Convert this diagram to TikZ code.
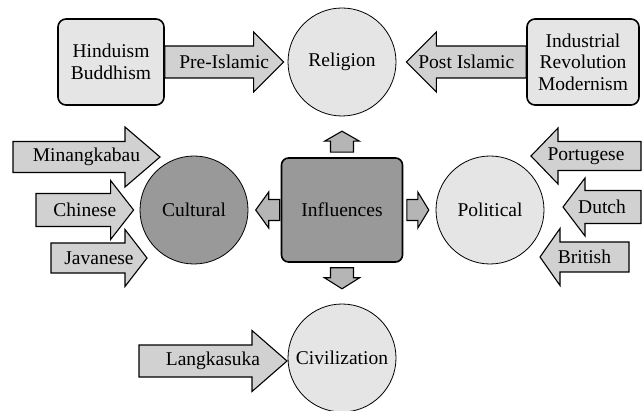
\documentclass[tikz,border=0pt]{standalone}
\usepackage{xcolor}
\usepackage{tikz}
\usetikzlibrary{calc}
\usepackage{fontspec}
\setmainfont{Liberation Serif}
\newfontfamily\diagfamily{Liberation Serif}

\definecolor{paleshade}{gray}{0.90}
\definecolor{arrowshade}{gray}{0.82}
\definecolor{smallshade}{gray}{0.71}
\definecolor{darkshade}{gray}{0.60}

\newcommand{\diagfont}{\diagfamily\fontsize{19.5}{21.5}\selectfont}

\tikzset{
  roundnode/.style={circle, minimum size=108pt, inner sep=0pt, draw=black, line width=0.8pt},
  sidebox/.style={rectangle, rounded corners=8pt, minimum width=106pt, minimum height=86pt, align=center, draw=black, line width=1.6pt, fill=paleshade},
  blockarrow/.style={draw=black, line width=1.1pt, fill=arrowshade}
}

% [style]{tail}{tip}{head length}{half shaft}{half head}{label}
\newcommand{\blockarrow}[7][]{%
  \path (#2) coordinate (ba-tail) (#3) coordinate (ba-tip);
  \path ($(ba-tip)!#4!(ba-tail)$) coordinate (ba-base);
  \draw[blockarrow,#1] ($(ba-tail)!#5!90:(ba-tip)$)
    -- ($(ba-base)!#5!90:(ba-tip)$)
    -- ($(ba-base)!#6!90:(ba-tip)$)
    -- (ba-tip)
    -- ($(ba-base)!#6!-90:(ba-tip)$)
    -- ($(ba-base)!#5!-90:(ba-tip)$)
    -- ($(ba-tail)!#5!-90:(ba-tip)$) -- cycle;
  \node at ($(ba-tail)!0.5!(ba-tip)$) {#7};
}

\begin{document}
\begin{tikzpicture}[x=1pt, y=-1pt, node distance=148pt, font=\diagfont]
\useasboundingbox (0,0) rectangle (642,411);

\node (influences) [rectangle, rounded corners=7pt, minimum width=121pt, minimum height=104pt, draw=black, line width=1.6pt, fill=darkshade] at (342,210) {Influences};

\node (religion) [roundnode, fill=paleshade, above of=influences] {Religion};
\node (cultural) [roundnode, fill=darkshade, left of=influences] {Cultural};
\node (political) [roundnode, fill=paleshade, right of=influences] {Political};
\node (civilization) [roundnode, fill=paleshade, below of=influences] {Civilization};

\node (hindu) [sidebox, left of=religion, xshift=-83pt] {Hinduism\\Buddhism};
\node (industrial) [sidebox, minimum width=112pt, right of=religion, xshift=93pt] {Industrial\\Revolution\\Modernism};

% free ends
\coordinate (minang-tail) at (13,157);
\coordinate (minang-tip) at (160,157);
\coordinate (chinese-tail) at (36,210);
\coordinate (javanese-tail) at (51,258);
\coordinate (javanese-tip) at (147,258);
\coordinate (portugese-tail) at (641,156);
\coordinate (portugese-tip) at (531,156);
\coordinate (dutch-tail) at (641,207);
\coordinate (dutch-tip) at (563,207);
\coordinate (british-tail) at (629,257);
\coordinate (british-tip) at (540,257);
\coordinate (langkasuka-tail) at (139,361);
\coordinate (langkasuka-tip) at (287,361);

\blockarrow{hindu.east}{$(religion.west)+(-4,0)$}{30pt}{16pt}{30pt}{Pre-Islamic}
\blockarrow{industrial.west}{$(religion.east)+(10,0)$}{30pt}{16pt}{30pt}{Post Islamic}

\blockarrow{minang-tail}{minang-tip}{35pt}{15.5pt}{30pt}{Minangkabau}
\blockarrow{chinese-tail}{$(cultural.west)+(-6,0)$}{23pt}{16.5pt}{29.5pt}{Chinese}
\blockarrow{javanese-tail}{javanese-tip}{22pt}{15pt}{28.5pt}{Javanese}

\blockarrow{portugese-tail}{portugese-tip}{27pt}{14.5pt}{28pt}{Portugese}
\blockarrow{dutch-tail}{dutch-tip}{22pt}{16.5pt}{29pt}{Dutch}
\blockarrow{british-tail}{british-tip}{20pt}{15pt}{28.5pt}{British}

\blockarrow{langkasuka-tail}{langkasuka-tip}{35pt}{16pt}{30.5pt}{Langkasuka}

\blockarrow[fill=smallshade]{$(influences.north)+(0,-5)$}{$(influences.north)+(0,-26)$}{10pt}{11.5pt}{17.5pt}{}
\blockarrow[fill=smallshade]{$(influences.west)+(-1,0)$}{$(influences.west)+(-25,0)$}{13pt}{10.5pt}{18pt}{}
\blockarrow[fill=smallshade]{$(influences.east)+(3.5,0)$}{$(influences.east)+(25.5,0)$}{11pt}{10.5pt}{18pt}{}
\blockarrow[fill=smallshade]{$(influences.south)+(0,5)$}{$(influences.south)+(0,26)$}{11pt}{11.5pt}{17.5pt}{}

\end{tikzpicture}
\end{document}
